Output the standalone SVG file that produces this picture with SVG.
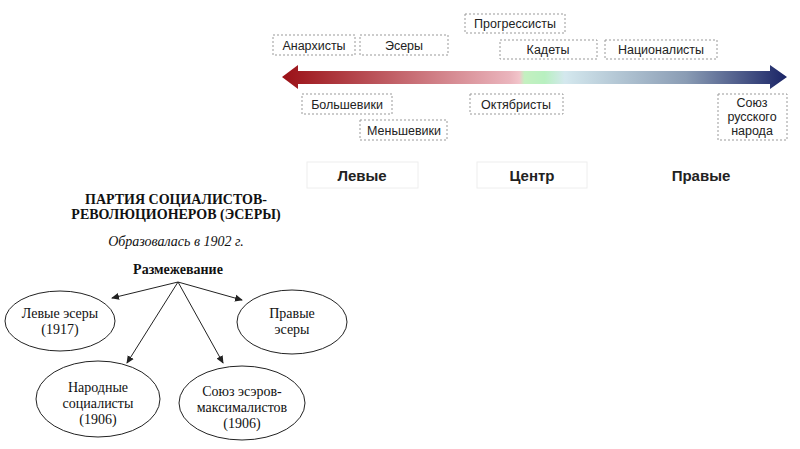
<svg xmlns="http://www.w3.org/2000/svg" width="800" height="449" viewBox="0 0 800 449">
<style>
.b{fill:#fff;stroke:#999;stroke-width:1;stroke-dasharray:2,2}
.t{font-family:"Liberation Sans",Arial,sans-serif;font-size:12.5px;fill:#222;text-anchor:middle}
.L{font-family:"Liberation Sans",Arial,sans-serif;font-size:15px;font-weight:bold;fill:#222;text-anchor:middle}
.s{font-family:"Liberation Serif","Times New Roman",serif;font-size:14px;fill:#111;text-anchor:middle}
.e{fill:#fff;stroke:#222;stroke-width:1}
.c{stroke:#222;stroke-width:1;fill:none;marker-end:url(#ah)}
</style>
<defs>
<linearGradient id="g" x1="282" x2="787" y1="0" y2="0" gradientUnits="userSpaceOnUse">
<stop offset="0" stop-color="#9a1016"/>
<stop offset="0.45" stop-color="#eab4bc"/>
<stop offset="0.47" stop-color="#f2c4ca"/>
<stop offset="0.48" stop-color="#c4f0c0"/>
<stop offset="0.52" stop-color="#b8f0c0"/>
<stop offset="0.56" stop-color="#d4e8ee"/>
<stop offset="0.8" stop-color="#8a9cb4"/>
<stop offset="1" stop-color="#1a2466"/>
</linearGradient>
<marker id="ah" markerWidth="8" markerHeight="8" refX="7" refY="4" orient="auto" markerUnits="userSpaceOnUse"><path d="M0,0.5 L8,4 L0,7.5 Z" fill="#222"/></marker>
</defs>
<rect width="800" height="449" fill="#fff"/>
<path d="M282,77 L298,65 L298,71 L770,71 L770,65 L787,77 L770,89 L770,84 L298,84 L298,89 Z" fill="url(#g)"/>
<g id="anarch"><rect class="b" x="273" y="35" width="82" height="20"/><text class="t" x="314" y="50">Анархисты</text></g>
<g id="esery"><rect class="b" x="360" y="35" width="88" height="20"/><text class="t" x="404" y="50">Эсеры</text></g>
<g id="progr"><rect class="b" x="465" y="14" width="100" height="19"/><text class="t" x="515" y="28">Прогрессисты</text></g>
<g id="kadety"><rect class="b" x="500" y="40" width="97" height="19"/><text class="t" x="548" y="54">Кадеты</text></g>
<g id="nats"><rect class="b" x="605" y="40" width="112" height="19"/><text class="t" x="661" y="54">Националисты</text></g>
<g id="bolsh"><rect class="b" x="302" y="94" width="90" height="20"/><text class="t" x="347" y="109">Большевики</text></g>
<g id="okt"><rect class="b" x="470" y="94" width="93" height="20"/><text class="t" x="516" y="109">Октябристы</text></g>
<g id="men"><rect class="b" x="360" y="120" width="87" height="20"/><text class="t" x="404" y="135">Меньшевики</text></g>
<g id="srn"><rect class="b" x="718" y="94" width="69" height="46"/><text class="t" x="752" y="107">Союз</text><text class="t" x="752" y="121">русского</text><text class="t" x="752" y="135">народа</text></g>
<g id="levye"><rect x="307" y="162" width="111" height="26" fill="#fff" stroke="#eee"/><text class="L" x="362" y="181">Левые</text></g>
<g id="centr"><rect x="477" y="162" width="110" height="26" fill="#fff" stroke="#eee"/><text class="L" x="532" y="181">Центр</text></g>
<g id="pravye"><text class="L" x="701" y="181">Правые</text></g>
<g id="title"><text class="s" x="176" y="204" font-weight="bold">ПАРТИЯ СОЦИАЛИСТОВ-</text><text class="s" x="176" y="219" font-weight="bold">РЕВОЛЮЦИОНЕРОВ (ЭСЕРЫ)</text><text class="s" x="176" y="246" font-style="italic">Образовалась в 1902 г.</text></g>
<g id="razm"><text class="s" x="178" y="274" font-weight="bold" font-size="12.5">Размежевание</text></g>
<g id="connectors">
<line class="c" x1="178" y1="282" x2="112" y2="298"/>
<line class="c" x1="178" y1="282" x2="242" y2="300"/>
<line class="c" x1="178" y1="282" x2="127" y2="363"/>
<line class="c" x1="178" y1="282" x2="223" y2="363"/>
</g>
<g id="lev-es"><ellipse class="e" cx="60" cy="321" rx="55" ry="30"/><text class="s" x="60" y="318">Левые эсеры</text><text class="s" x="60" y="334">(1917)</text></g>
<g id="prav-es"><ellipse class="e" cx="292" cy="322" rx="55" ry="32"/><text class="s" x="292" y="318">Правые</text><text class="s" x="292" y="334">эсеры</text></g>
<g id="nar"><ellipse class="e" cx="98" cy="399" rx="62" ry="38"/><text class="s" x="98" y="392">Народные</text><text class="s" x="98" y="408">социалисты</text><text class="s" x="98" y="424">(1906)</text></g>
<g id="max"><ellipse class="e" cx="242" cy="403" rx="63" ry="37"/><text class="s" x="242" y="396">Союз эсэров-</text><text class="s" x="242" y="412">максималистов</text><text class="s" x="242" y="428">(1906)</text></g>
</svg>
